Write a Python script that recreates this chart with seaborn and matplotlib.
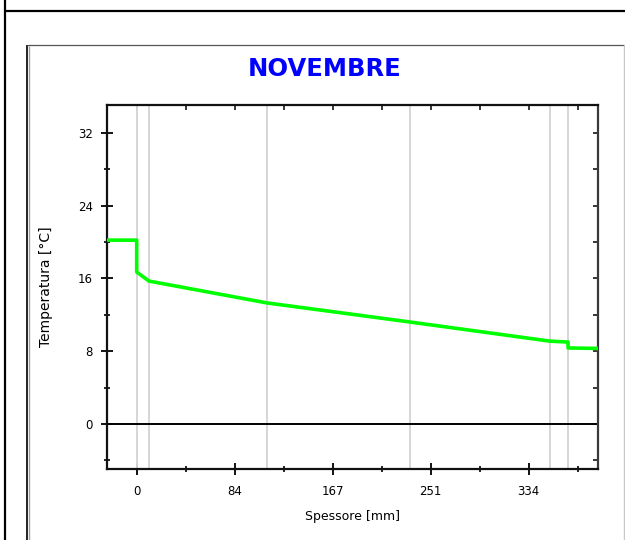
import matplotlib
matplotlib.use("Agg")
import matplotlib.pyplot as plt
from matplotlib.lines import Line2D
from matplotlib.ticker import FixedLocator
import seaborn as sns

# Temperature profile through the wall section (November)
spessore = [-25.3, 0.0, 0.0, 10.5, 111.0, 233.0, 352.0, 367.5, 367.5, 393.0]
temperatura = [20.2, 20.2, 16.7, 15.7, 13.3, 11.2, 9.1, 9.0, 8.35, 8.3]

# Layer boundaries of the wall
confini_strati = [0.0, 10.5, 111.0, 233.0, 352.0, 367.5]

x_ticks = [0.0, 83.5, 167.0, 250.5, 334.0]
x_tick_labels = ["0", "84", "167", "251", "334"]
x_minor = [41.75, 125.25, 208.75, 292.25, 375.75]
y_ticks = [0, 8, 16, 24, 32]
y_minor = [-4, 4, 12, 20, 28]

titolo = "NOVEMBRE"
x_label = "Spessore [mm]"
y_label = "Temperatura [°C]"

sns.set_style("white")
plt.rcParams["font.family"] = ["DejaVu Sans"]

W, H = 625, 540
fig = plt.figure(figsize=(W / 100, H / 100), dpi=100)
fig.patch.set_facecolor("white")

x0, x1, y0, y1 = 107, 598, 105, 469
ax = fig.add_axes([x0 / W, 1 - y1 / H, (x1 - x0) / W, (y1 - y0) / H])

# outer frame and inner panel borders
def px_line(xs, ys, color, lw):
    fig.add_artist(Line2D([x / W for x in xs], [1 - y / H for y in ys],
                          transform=fig.transFigure, color=color, lw=lw,
                          solid_capstyle="butt"))

px_line([5, 5], [0, 540], "black", 1.6)
px_line([5, 625], [11, 11], "black", 1.6)
px_line([27, 27], [45, 540], "black", 1.2)
px_line([28.6, 28.6], [46, 540], "#a0a0a0", 1.0)
px_line([27, 624], [45, 45], "#555555", 0.9)
px_line([624, 624], [45, 540], "#c8c8c8", 1.0)

for xb in confini_strati:
    ax.axvline(xb, color="#d6d6d6", lw=1.4, zorder=1)
ax.axhline(0, color="black", lw=1.4, zorder=2)

sns.lineplot(x=spessore, y=temperatura, estimator=None, sort=False,
             color="#00ff00", lw=2.6, ax=ax, zorder=3)

ax.set_xlim(-25.3, 393.0)
ax.set_ylim(-4.95, 35.05)

ax.xaxis.set_major_locator(FixedLocator(x_ticks))
ax.set_xticklabels(x_tick_labels)
ax.xaxis.set_minor_locator(FixedLocator(x_minor))
ax.yaxis.set_major_locator(FixedLocator(y_ticks))
ax.yaxis.set_minor_locator(FixedLocator(y_minor))

ax.tick_params(which="major", direction="inout", length=8, width=1.3,
               color="black", labelcolor="black", labelsize=8.5, pad=6,
               bottom=True, left=True)
ax.tick_params(axis="x", which="major", pad=7.5)
ax.tick_params(which="minor", direction="inout", length=4.5, width=1.2,
               color="black", bottom=True, left=True)

# inward ticks on the top and right edges
sec_x = ax.secondary_xaxis("top")
sec_x.xaxis.set_major_locator(FixedLocator(x_ticks + x_minor))
sec_x.tick_params(direction="in", length=3.5, width=1.3, labeltop=False)
sec_y = ax.secondary_yaxis("right")
sec_y.yaxis.set_major_locator(FixedLocator(y_ticks + y_minor))
sec_y.tick_params(direction="in", length=3.5, width=1.3, labelright=False)
for s in sec_x.spines.values():
    s.set_visible(False)
for s in sec_y.spines.values():
    s.set_visible(False)

for name, sp in ax.spines.items():
    sp.set_visible(True)
    sp.set_color("#111111" if name != "right" else "#3a3a3a")
    sp.set_linewidth(1.6)

ax.set_xlabel(x_label, fontsize=9, labelpad=9, color="black")
ax.set_ylabel(y_label, fontsize=10, labelpad=18, color="black")

fig.text(0.52, 1 - 69 / H, titolo, color="#0000ff", fontsize=17.5,
         fontweight="bold", ha="center", va="center")

fig.savefig("out.png", dpi=100)
